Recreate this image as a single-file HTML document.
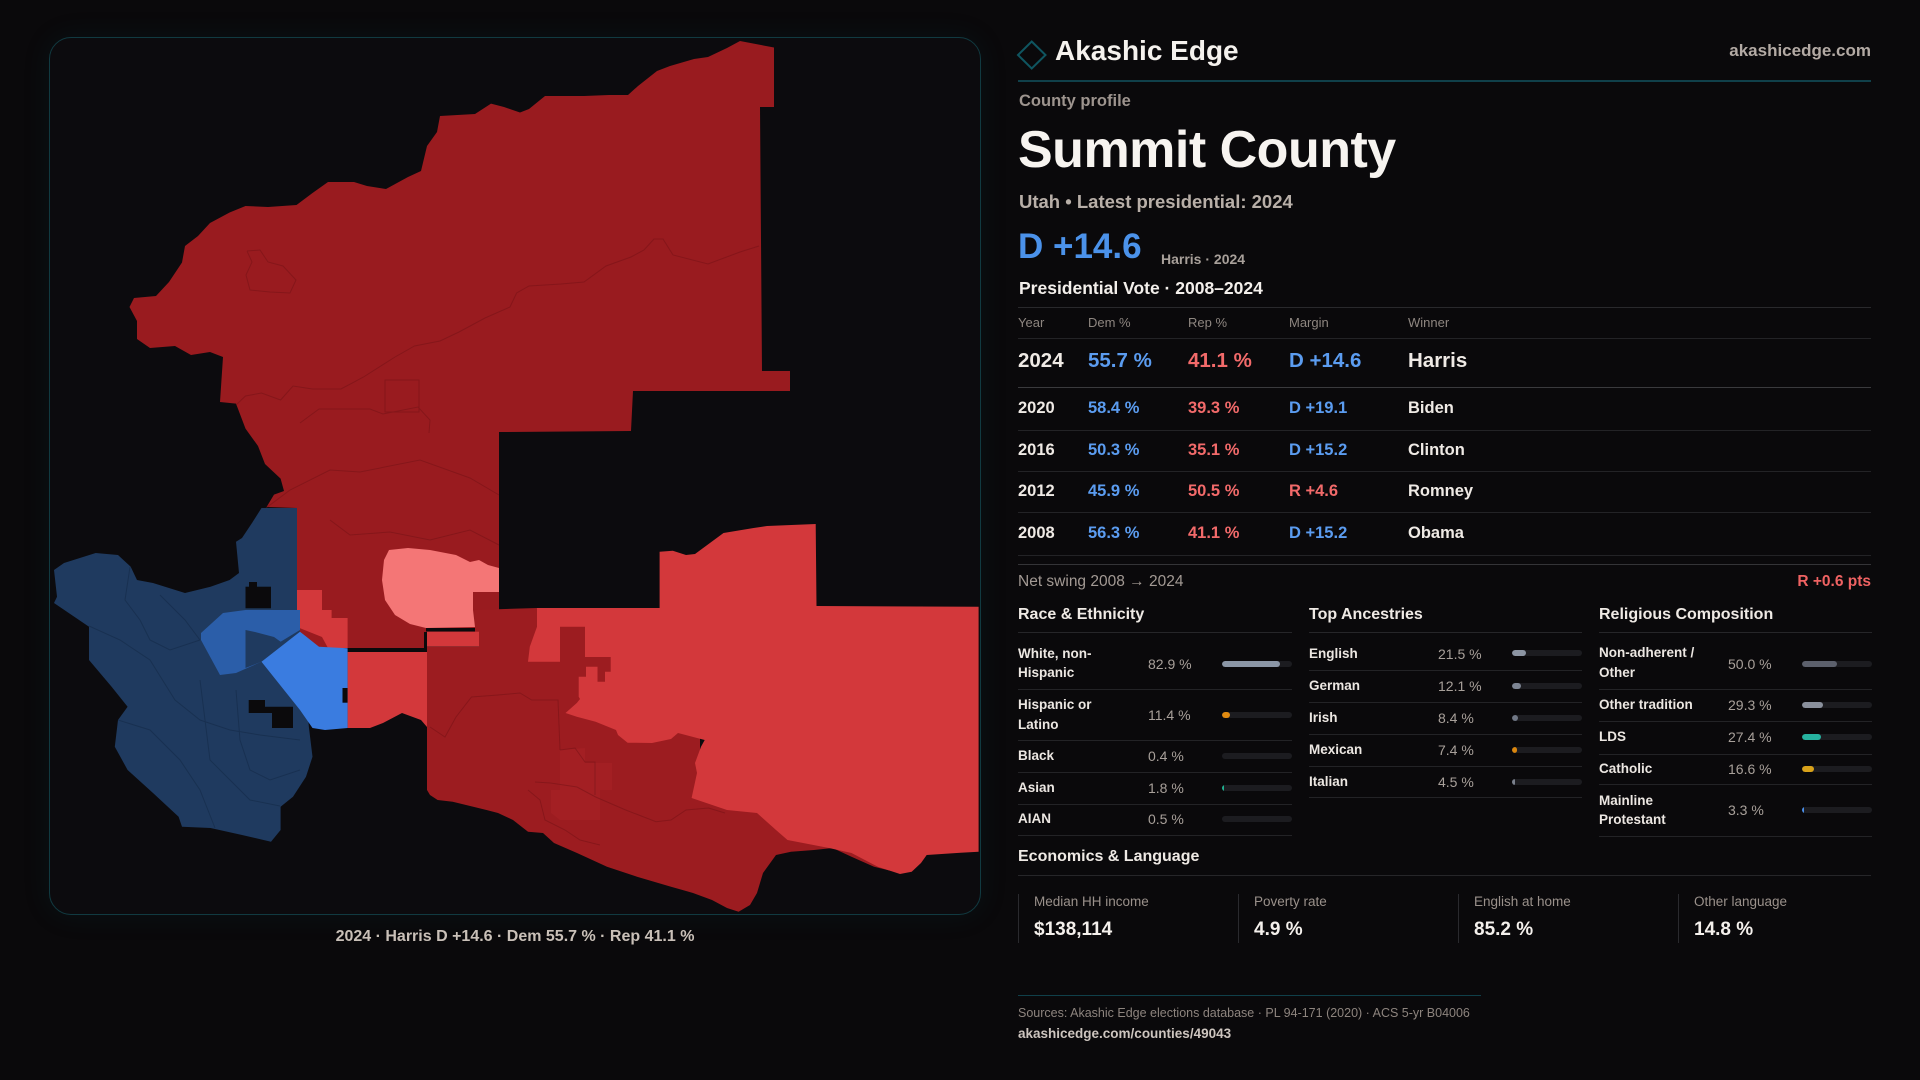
<!DOCTYPE html>
<html><head><meta charset="utf-8">
<style>
*{margin:0;padding:0;box-sizing:border-box}
body{width:1920px;height:1080px;background:#0a090b;overflow:hidden;position:relative;font-family:"Liberation Sans",sans-serif;}
.t{position:absolute;white-space:nowrap;line-height:1}
.b{font-weight:bold}
.hl{position:absolute;height:1px;background:#232326}
.panel{position:absolute;left:49px;top:37px;width:932px;height:878px;border:1.5px solid #113a41;border-radius:22px;background:#0c0b0e;box-shadow:0 0 28px rgba(20,90,100,0.12)}
.w{color:#efeae5}.g{color:#8e8680}.bl{color:#5b9cf0}.rd{color:#f26a6a}
.lab{position:absolute;white-space:nowrap;font-weight:bold;font-size:13.5px;color:#ece7e2;line-height:1}
.lab2{position:absolute;white-space:nowrap;font-weight:bold;font-size:13.5px;color:#ece7e2;line-height:19.5px}
.val{position:absolute;white-space:nowrap;font-size:14px;color:#a8a09a;line-height:1}
.trk{position:absolute;height:6px;width:70px;border-radius:3px;background:#1c1c20;overflow:hidden}
.trk i{display:block;height:6px;border-radius:3px}
.box{position:absolute;top:894px;height:49px;border-left:1px solid #2a2a2e}
.bxl{position:absolute;left:15px;top:1.3px;font-size:13.5px;color:#9a918b;white-space:nowrap;line-height:1}
.bxv{position:absolute;left:15px;top:25.9px;font-size:19px;font-weight:bold;color:#f4f0ec;white-space:nowrap;line-height:1}
</style></head><body>

<div class="panel"></div>

<svg style="position:absolute;left:0;top:0" width="1920" height="1080" viewBox="0 0 1920 1080">
<!-- dark red north -->
<polygon fill="#991b1f" points="740,41 774,47.5 774,107 760,107 762,371 790,371 790,391 633,391 631,431 501,432 499,432 499,610 475,610 475,632 427,632 427,648 297,648 297,508 266.6,507 274,494.6 284,491 280.6,478.6 265,464 258,446 245.5,428.6 236,403.6 220,402 223,357 210,352 191,355 175,346 150,348 137,339 137,321 129.5,307 134,298 156,296 169,282 182,262.5 185,246 198,236 210,223 229.6,212.5 245.5,206 268,207 296.5,205 312.5,193 328,182 354,182 367,186 386,189 408,177 421,171 427,146 437,132 440,116 475,114 491,103.6 504,107 520,112.5 529,109 545,96 584,96 609,95 628,95 638,86 657,71 670,66 694,59 708,57 727,48"/>
<g fill="none" stroke="#6e1014" stroke-width="1" opacity="0.45">
<polyline points="759,246 740,252 708,264 673,255 663,239 654,239 644,250 631,257 606,266 584,282 561,284 529,286 516.6,293 510,307 485,318 459,332 440,341 414.5,346 395,357 363.5,377 341,389 312.5,389 293,386 280.6,400 261.5,393 245.5,396 236,405"/>
<polyline points="247,251 260,250 268,262 283,266 296,280 290,293 270,292 250,290 246,275 252,262 247,251"/>
<rect x="385" y="380" width="34" height="32"/>
<polyline points="300,423 319,409 370,409 383,414 418,407 430,420 429,433"/>
<polyline points="266,508 290,490 330,470 360,472 420,460 470,478 499,495"/>
<polyline points="330,520 350,535 390,532 430,540 470,530 499,545"/>
</g>
<!-- coral -->
<polygon fill="#f47676" points="389,550 408,548 430,550 456,555 470,562 479,560 488,565 499,568 499,592 473,592 473,610 475,627 426,628 410,624 395,615 385,600 382,580 384,560"/>
<!-- staircase bright -->
<polygon fill="#d3383b" points="297,590 322,590 322,610 331.6,610 331.6,618 347.6,618 347.6,648 328,648 322,637 297,627"/>
<!-- south dark -->
<polygon fill="#9c1c20" points="427,647 479,647 479,632 475,632 475,610 537,608 700,608 700,760 870,800 900,873 874,866.7 851.5,856.7 832.6,848 814,850 791,851.7 776,855 763,873 757,893 750,905 738.6,911.7 727,908 712,900 693,893 671,886.7 637,876.7 607,866.7 577,853 554,843 543,833 528,831.7 513,820 498,813 486.5,810 452.7,801.7 437.6,800 430,795 427,790"/>
<polygon fill="#a31f23" points="560,750 585,748 585,763 612,763 612,790 600,790 600,820 560,820 551,813 551,790 560,790"/>
<g fill="none" stroke="#6e1014" stroke-width="1" opacity="0.45">
<polyline points="430,727 445,737 456,717 471.5,697 498,695 520,693 531.7,700 558,700 560,750"/>
<polyline points="535,782 550.5,783 577,787 595.6,797 625.7,810 656,821.7 671,820 686,810 708.5,808 725,813"/>
<polyline points="560,750 575,748 585,762 595,762 595,795"/>
<polyline points="528,790 540,800 545,820 565,830 580,840 600,845"/>
</g>
<!-- bright piece & left bright -->
<rect x="427" y="631.7" width="52" height="15" fill="#d3383b"/>
<polygon fill="#d3383b" points="347.6,652 427,652 427,727 421,720 402,713 383,723 370,728 347.6,728"/>
<!-- bright east -->
<polygon fill="#d3383b" points="659.6,551.7 672.8,550.7 686,555 695,554 723.5,533 753.6,528 767,526 815.7,524 816.5,606 978.6,606.7 978.6,851.7 960.6,852.7 926.7,855 921,863 911.7,871.7 900,874 877.8,866.7 851.5,853 829,848 787.5,840 776,830 757,813 727,810 691.6,798 697,773 695,763 701,746.7 704.7,740 678,733 671,739 652,743 627.6,742.7 618,735 616,730 595.6,721.7 576.8,716.7 565.5,713 576.8,703 580,699 578.7,696.7 578.7,676.7 586,676.7 586,666.7 597.5,666.7 597.5,681.7 605,681.7 605,671.7 610.7,671.7 610.7,657 585,657 585,626.7 560,626.7 560,661.7 528,661.7 529.8,646.7 537,626.7 537,608 659.6,608"/>
<!-- black lines -->
<rect x="426" y="628" width="49" height="3.5" fill="#0b0a0c"/>
<rect x="424" y="632" width="3" height="16" fill="#0b0a0c"/>
<rect x="338" y="648" width="89" height="4" fill="#0b0a0c"/>
<!-- navy -->
<polygon fill="#1f3a5f" points="54,570 64,563 95.7,553 118,555 130.7,566.7 137,580 153,583 185,593 210.5,586.7 229.6,580 239,573 236,541.7 242,538 252,523 261.5,508 297,508 297,610 300,631.7 309,728 312.5,756.7 306,776.7 293,796.7 280.6,806.7 280.6,830 271,841.7 242,835 210.5,828 182,826.7 178.6,816.7 153,793 127.6,770 114.8,746.7 118,720 127.6,706.7 111.6,686.7 89,660 89,626.7 54,603 57,596.7"/>
<g fill="none" stroke="#152b48" stroke-width="1" opacity="0.6">
<polyline points="130,567 125,600 140,620 150,640 170,650 200,640"/>
<polyline points="89,626 120,640 150,660 175,700 200,720 230,730 260,735 300,740"/>
<polyline points="118,720 150,730 180,760 200,790 215,828"/>
<polyline points="200,680 205,720 210,760 230,780 250,800 280,806"/>
<polyline points="236,690 240,740 250,770 270,780 300,770"/>
<polyline points="160,595 185,620 200,640"/>
</g>
<!-- medium blue -->
<polygon fill="#2b5ea9" points="201,633 223,613 245.5,610 300,610 300,630 280.6,641.7 261.5,661.7 236,673 220,675 201,640"/>
<polygon fill="#1f3a5f" points="245.5,630 255,632 274,637 281,642 297,642 300,632 300,640 261.5,661.7 245.5,668"/>
<!-- bright blue -->
<polygon fill="#3a7ce0" points="261.5,661.7 300,631.7 319,646.7 347.6,648.3 347.6,728 325,730 312.5,728 300,710"/>
<!-- holes -->
<rect x="245.5" y="586.7" width="25.5" height="21.6" fill="#0b0a0c"/>
<rect x="249" y="582" width="8" height="6" fill="#0b0a0c"/>
<polygon fill="#0b0a0c" points="248.7,700 265,700 265,706.7 293,706.7 293,728 272,728 272,713 248.7,713"/>
<rect x="342.5" y="688" width="5" height="14.7" fill="#0b0a0c"/>
<!-- logo diamond -->
<polygon points="1031.7,41.5 1045.5,55 1031.7,68.5 1018,55" fill="none" stroke="#0f5560" stroke-width="2"/>
</svg>

<div class="t b" style="left:335px;top:929px;width:360px;text-align:center;font-size:16px;color:#c9c0b8">2024 · Harris D +14.6 · Dem 55.7 % · Rep 41.1 %</div>

<!-- header -->
<div class="t b" style="left:1055px;top:37.3px;font-size:28px;color:#f5f2ee">Akashic Edge</div>
<div class="t b" style="right:49px;top:42.3px;font-size:17px;color:#b3aaa4">akashicedge.com</div>
<div class="hl" style="left:1018px;width:853px;top:80px;background:#10404a;height:1.5px"></div>
<div class="t b" style="left:1019px;top:92.7px;font-size:16.5px;color:#9d948e">County profile</div>
<div class="t b" style="left:1018px;top:124.3px;font-size:52px;letter-spacing:-0.5px;color:#f7f4f0">Summit County</div>
<div class="t b" style="left:1019px;top:192.6px;font-size:18.5px;color:#b8afa8">Utah • Latest presidential: 2024</div>
<div class="t b" style="left:1018px;top:228.7px;font-size:35px;color:#4b92ea">D +14.6</div>
<div class="t b" style="left:1161px;top:251.5px;font-size:14px;color:#a8a09a">Harris · 2024</div>
<div class="t b" style="left:1019px;top:279.9px;font-size:17.5px;color:#f3efeb">Presidential Vote · 2008–2024</div>
<div class="hl" style="left:1018px;width:853px;top:307px;background:#29292c"></div>

<!-- table -->
<div class="t g" style="left:1018px;top:315.7px;font-size:13px">Year</div>
<div class="t g" style="left:1088px;top:315.7px;font-size:13px">Dem %</div>
<div class="t g" style="left:1188px;top:315.7px;font-size:13px">Rep %</div>
<div class="t g" style="left:1289px;top:315.7px;font-size:13px">Margin</div>
<div class="t g" style="left:1408px;top:315.7px;font-size:13px">Winner</div>
<div class="hl" style="left:1018px;width:853px;top:338px"></div>

<div class="t b w" style="left:1018px;top:351px;font-size:20.5px">2024</div>
<div class="t b bl" style="left:1088px;top:351px;font-size:20.5px">55.7 %</div>
<div class="t b rd" style="left:1188px;top:351px;font-size:20.5px">41.1 %</div>
<div class="t b bl" style="left:1289px;top:351px;font-size:20.5px">D +14.6</div>
<div class="t b w" style="left:1408px;top:351px;font-size:20.5px">Harris</div>
<div class="hl" style="left:1018px;width:853px;top:387px;background:#3a3a3d"></div>

<div class="t b w" style="left:1018px;top:400.3px;font-size:16.5px">2020</div>
<div class="t b bl" style="left:1088px;top:400.3px;font-size:16.5px">58.4 %</div>
<div class="t b rd" style="left:1188px;top:400.3px;font-size:16.5px">39.3 %</div>
<div class="t b bl" style="left:1289px;top:400.3px;font-size:16.5px">D +19.1</div>
<div class="t b w" style="left:1408px;top:400.3px;font-size:16.5px">Biden</div>
<div class="hl" style="left:1018px;width:853px;top:430px"></div>

<div class="t b w" style="left:1018px;top:441.7px;font-size:16.5px">2016</div>
<div class="t b bl" style="left:1088px;top:441.7px;font-size:16.5px">50.3 %</div>
<div class="t b rd" style="left:1188px;top:441.7px;font-size:16.5px">35.1 %</div>
<div class="t b bl" style="left:1289px;top:441.7px;font-size:16.5px">D +15.2</div>
<div class="t b w" style="left:1408px;top:441.7px;font-size:16.5px">Clinton</div>
<div class="hl" style="left:1018px;width:853px;top:471px"></div>

<div class="t b w" style="left:1018px;top:483.3px;font-size:16.5px">2012</div>
<div class="t b bl" style="left:1088px;top:483.3px;font-size:16.5px">45.9 %</div>
<div class="t b rd" style="left:1188px;top:483.3px;font-size:16.5px">50.5 %</div>
<div class="t b rd" style="left:1289px;top:483.3px;font-size:16.5px">R +4.6</div>
<div class="t b w" style="left:1408px;top:483.3px;font-size:16.5px">Romney</div>
<div class="hl" style="left:1018px;width:853px;top:512px"></div>

<div class="t b w" style="left:1018px;top:525.3px;font-size:16.5px">2008</div>
<div class="t b bl" style="left:1088px;top:525.3px;font-size:16.5px">56.3 %</div>
<div class="t b rd" style="left:1188px;top:525.3px;font-size:16.5px">41.1 %</div>
<div class="t b bl" style="left:1289px;top:525.3px;font-size:16.5px">D +15.2</div>
<div class="t b w" style="left:1408px;top:525.3px;font-size:16.5px">Obama</div>
<div class="hl" style="left:1018px;width:853px;top:555px"></div>
<div class="hl" style="left:1018px;width:853px;top:564px;background:#343437"></div>

<div class="t" style="left:1018px;top:574.2px;font-size:15.5px;color:#a39a94">Net swing 2008 → 2024</div>
<div class="t b" style="right:49px;top:574.2px;font-size:15.5px;color:#ef6262">R +0.6 pts</div>

<!-- columns headings -->
<div class="t b w" style="left:1018px;top:606.5px;font-size:16px">Race &amp; Ethnicity</div>
<div class="t b w" style="left:1309px;top:606.5px;font-size:16px">Top Ancestries</div>
<div class="t b w" style="left:1599px;top:606.5px;font-size:16px">Religious Composition</div>
<div class="hl" style="left:1018px;width:274px;top:632px;background:#262629"></div>
<div class="hl" style="left:1309px;width:273px;top:632px;background:#262629"></div>
<div class="hl" style="left:1599px;width:273px;top:632px;background:#262629"></div>

<!-- race -->
<div class="lab2" style="left:1018px;top:643.5px">White, non-<br>Hispanic</div>
<div class="val" style="left:1148px;top:656.8px">82.9 %</div>
<div class="trk" style="left:1222px;top:660.7px"><i style="width:58px;background:#8b96a6"></i></div>
<div class="hl" style="left:1018px;width:274px;top:689px"></div>
<div class="lab2" style="left:1018px;top:695.3px">Hispanic or<br>Latino</div>
<div class="val" style="left:1148px;top:708px">11.4 %</div>
<div class="trk" style="left:1222px;top:712px"><i style="width:8px;background:#e08a10"></i></div>
<div class="hl" style="left:1018px;width:274px;top:740px"></div>
<div class="lab" style="left:1018px;top:749px">Black</div>
<div class="val" style="left:1148px;top:749px">0.4 %</div>
<div class="trk" style="left:1222px;top:752.7px"></div>
<div class="hl" style="left:1018px;width:274px;top:772px"></div>
<div class="lab" style="left:1018px;top:781px">Asian</div>
<div class="val" style="left:1148px;top:781px">1.8 %</div>
<div class="trk" style="left:1222px;top:785px"><i style="width:1.5px;background:#20b090;border-radius:0"></i></div>
<div class="hl" style="left:1018px;width:274px;top:804px"></div>
<div class="lab" style="left:1018px;top:812px">AIAN</div>
<div class="val" style="left:1148px;top:812px">0.5 %</div>
<div class="trk" style="left:1222px;top:815.7px"></div>
<div class="hl" style="left:1018px;width:274px;top:835px"></div>

<!-- ancestries -->
<div class="lab" style="left:1309px;top:646.5px">English</div>
<div class="val" style="left:1438px;top:646.5px">21.5 %</div>
<div class="trk" style="left:1512px;top:650.3px"><i style="width:14px;background:#8c95a3"></i></div>
<div class="hl" style="left:1309px;width:273px;top:670px"></div>
<div class="lab" style="left:1309px;top:679px">German</div>
<div class="val" style="left:1438px;top:679px">12.1 %</div>
<div class="trk" style="left:1512px;top:683px"><i style="width:8.5px;background:#7d8593"></i></div>
<div class="hl" style="left:1309px;width:273px;top:702px"></div>
<div class="lab" style="left:1309px;top:711px">Irish</div>
<div class="val" style="left:1438px;top:711px">8.4 %</div>
<div class="trk" style="left:1512px;top:714.7px"><i style="width:6px;background:#707785"></i></div>
<div class="hl" style="left:1309px;width:273px;top:734px"></div>
<div class="lab" style="left:1309px;top:743px">Mexican</div>
<div class="val" style="left:1438px;top:743px">7.4 %</div>
<div class="trk" style="left:1512px;top:747px"><i style="width:5px;background:#d9860f"></i></div>
<div class="hl" style="left:1309px;width:273px;top:766px"></div>
<div class="lab" style="left:1309px;top:775px">Italian</div>
<div class="val" style="left:1438px;top:775px">4.5 %</div>
<div class="trk" style="left:1512px;top:779px"><i style="width:3px;background:#7a808c;border-radius:1px"></i></div>
<div class="hl" style="left:1309px;width:273px;top:797px"></div>

<!-- religion -->
<div class="lab2" style="left:1599px;top:643.3px">Non-adherent /<br>Other</div>
<div class="val" style="left:1728px;top:656.8px">50.0 %</div>
<div class="trk" style="left:1802px;top:660.7px"><i style="width:35px;background:#5c606c"></i></div>
<div class="hl" style="left:1599px;width:273px;top:689px"></div>
<div class="lab" style="left:1599px;top:698px">Other tradition</div>
<div class="val" style="left:1728px;top:698px">29.3 %</div>
<div class="trk" style="left:1802px;top:702px"><i style="width:20.5px;background:#8a909c"></i></div>
<div class="hl" style="left:1599px;width:273px;top:721px"></div>
<div class="lab" style="left:1599px;top:729.8px">LDS</div>
<div class="val" style="left:1728px;top:729.8px">27.4 %</div>
<div class="trk" style="left:1802px;top:733.7px"><i style="width:19px;background:#26b3a0"></i></div>
<div class="hl" style="left:1599px;width:273px;top:754px"></div>
<div class="lab" style="left:1599px;top:762px">Catholic</div>
<div class="val" style="left:1728px;top:762px">16.6 %</div>
<div class="trk" style="left:1802px;top:766px"><i style="width:11.6px;background:#d8a21a"></i></div>
<div class="hl" style="left:1599px;width:273px;top:784px"></div>
<div class="lab2" style="left:1599px;top:790.5px">Mainline<br>Protestant</div>
<div class="val" style="left:1728px;top:803px">3.3 %</div>
<div class="trk" style="left:1802px;top:807px"><i style="width:2px;background:#4a8ee8;border-radius:0"></i></div>
<div class="hl" style="left:1599px;width:273px;top:836px"></div>

<!-- economics -->
<div class="t b w" style="left:1018px;top:848.8px;font-size:16px">Economics &amp; Language</div>
<div class="hl" style="left:1018px;width:853px;top:875px;background:#262629"></div>
<div class="box" style="left:1018px"><div class="bxl">Median HH income</div><div class="bxv">$138,114</div></div>
<div class="box" style="left:1238px"><div class="bxl">Poverty rate</div><div class="bxv">4.9 %</div></div>
<div class="box" style="left:1458px"><div class="bxl">English at home</div><div class="bxv">85.2 %</div></div>
<div class="box" style="left:1678px"><div class="bxl">Other language</div><div class="bxv">14.8 %</div></div>

<!-- footer -->
<div class="hl" style="left:1018px;width:463px;top:995px;background:#10404a"></div>
<div class="t" style="left:1018px;top:1007px;font-size:12.5px;color:#8d847e">Sources: Akashic Edge elections database · PL 94-171 (2020) · ACS 5-yr B04006</div>
<div class="t b" style="left:1018px;top:1026.9px;font-size:13.5px;color:#cdc5bf">akashicedge.com/counties/49043</div>

</body></html>
